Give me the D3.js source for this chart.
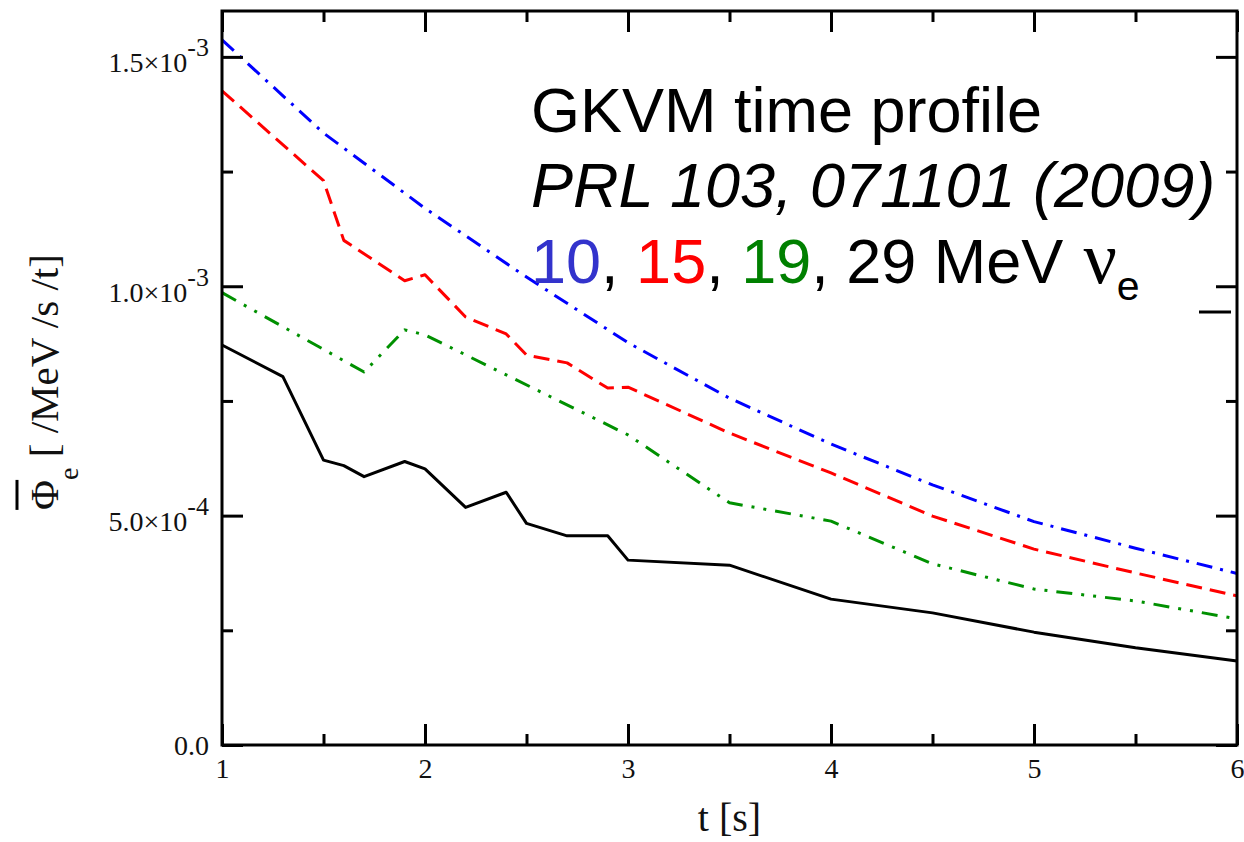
<!DOCTYPE html>
<html>
<head>
<meta charset="utf-8">
<script src="https://cdn.jsdelivr.net/npm/d3@7"></script>
<style>
  body { margin: 0; background: #fff; }
</style>
</head>
<body>
<svg id="chart" width="1244" height="842"></svg>
<script>
// time [s] and flux [/MeV /s /t] for each neutrino energy
var times10 = [1.0, 1.5, 2.0, 2.5, 3.0, 3.5, 4.0, 4.5, 5.0, 5.5, 6.0];
var flux10  = [1.537e-3, 1.334e-3, 1.170e-3, 1.020e-3, 8.77e-4, 7.56e-4, 6.56e-4, 5.67e-4, 4.87e-4, 4.29e-4, 3.74e-4];

var times15 = [1.0, 1.5, 1.6, 1.9, 2.0, 2.2, 2.4, 2.5, 2.7, 2.9, 3.0, 3.5, 4.0, 4.5, 5.0, 5.5, 6.0];
var flux15  = [1.426e-3, 1.230e-3, 1.100e-3, 1.012e-3, 1.025e-3, 9.33e-4, 8.96e-4, 8.50e-4, 8.33e-4, 7.78e-4, 7.80e-4,
               6.80e-4, 5.93e-4, 4.99e-4, 4.27e-4, 3.75e-4, 3.25e-4];

var times19 = [1.0, 1.7, 1.9, 2.0, 3.0, 3.5, 4.0, 4.5, 5.0, 5.5, 6.0];
var flux19  = [9.86e-4, 8.13e-4, 9.05e-4, 8.94e-4, 6.76e-4, 5.28e-4, 4.88e-4, 3.95e-4, 3.40e-4, 3.14e-4, 2.75e-4];

var times29 = [1.0, 1.3, 1.5, 1.6, 1.7, 1.9, 2.0, 2.2, 2.4, 2.5, 2.7, 2.9, 3.0, 3.5, 4.0, 4.5, 5.0, 5.5, 6.0];
var flux29  = [8.72e-4, 8.03e-4, 6.21e-4, 6.09e-4, 5.85e-4, 6.18e-4, 6.02e-4, 5.18e-4, 5.51e-4, 4.83e-4, 4.56e-4,
               4.56e-4, 4.03e-4, 3.92e-4, 3.18e-4, 2.88e-4, 2.46e-4, 2.12e-4, 1.83e-4];

var xMajor = [1, 2, 3, 4, 5, 6];
var xMinor = [1.5, 2.5, 3.5, 4.5, 5.5];
var yMajor = [0, 5e-4, 1e-3, 1.5e-3];
var yMinor = [2.5e-4, 7.5e-4, 1.25e-3];
var yLabelBase = ["0.0", "5.0\u00d710", "1.0\u00d710", "1.5\u00d710"];
var yLabelExp  = ["", "-4", "-3", "-3"];

var margin = {top: 11, right: 7, bottom: 97, left: 222};
var width = 1244 - margin.left - margin.right;
var height = 842 - margin.top - margin.bottom;

var x = d3.scaleLinear().domain([1, 6]).range([0, width]);
var y = d3.scaleLinear().domain([0, 1.6e-3]).range([height, 0]);

var svg = d3.select("#chart");
var chart = svg.append("g")
  .attr("transform", "translate(" + margin.left + "," + margin.top + ")");

var line = d3.line()
  .x(function(d) { return x(d[0]); })
  .y(function(d) { return y(d[1]); });

var series = [
  {t: times29, f: flux29, color: "#000000", dash: null},
  {t: times19, f: flux19, color: "#009000", dash: "16,9,3,9,3,9"},
  {t: times15, f: flux15, color: "#ff0000", dash: "16,8"},
  {t: times10, f: flux10, color: "#0000ff", dash: "16,8,3,8"}
];

chart.selectAll(".series")
  .data(series)
  .enter().append("path")
  .attr("class", "series")
  .attr("d", function(s) { return line(d3.zip(s.t, s.f)); })
  .attr("fill", "none")
  .attr("stroke", function(s) { return s.color; })
  .attr("stroke-width", 3)
  .attr("stroke-linejoin", "round")
  .attr("stroke-dasharray", function(s) { return s.dash; });

function styleAxis(g) {
  g.select(".domain").remove();
  g.selectAll(".tick line").attr("stroke", "#000").attr("stroke-width", 3);
  g.selectAll("text")
    .attr("font-family", "'Liberation Serif', 'Times New Roman', serif")
    .attr("font-size", 28)
    .attr("fill", "#111");
}

// bottom axis with labels
chart.append("g")
  .attr("transform", "translate(0," + height + ")")
  .call(d3.axisBottom(x).tickValues(xMajor).tickSize(-21).tickPadding(13).tickFormat(d3.format("d")))
  .call(styleAxis);
chart.append("g")
  .attr("transform", "translate(0," + height + ")")
  .call(d3.axisBottom(x).tickValues(xMinor).tickSize(-11).tickFormat(""))
  .call(styleAxis);

// top axis
chart.append("g")
  .call(d3.axisTop(x).tickValues(xMajor).tickSize(-21).tickFormat(""))
  .call(styleAxis);
chart.append("g")
  .call(d3.axisTop(x).tickValues(xMinor).tickSize(-11).tickFormat(""))
  .call(styleAxis);

// left axis with labels
var yAxisG = chart.append("g")
  .call(d3.axisLeft(y).tickValues(yMajor).tickSize(-21).tickPadding(13).tickFormat(""))
  .call(styleAxis);
chart.append("g")
  .call(d3.axisLeft(y).tickValues(yMinor).tickSize(-11).tickFormat(""))
  .call(styleAxis);

yAxisG.selectAll(".tick text").each(function(d, i) {
  var t = d3.select(this);
  t.attr("dy", null).attr("y", yLabelExp[i] ? 15 : 9);
  t.append("tspan").text(yLabelBase[i]);
  if (yLabelExp[i]) {
    t.append("tspan").attr("font-size", 26).attr("dy", -16).text(yLabelExp[i]);
  }
});

// right axis
chart.append("g")
  .attr("transform", "translate(" + width + ",0)")
  .call(d3.axisRight(y).tickValues(yMajor).tickSize(-21).tickFormat(""))
  .call(styleAxis);
chart.append("g")
  .attr("transform", "translate(" + width + ",0)")
  .call(d3.axisRight(y).tickValues(yMinor).tickSize(-11).tickFormat(""))
  .call(styleAxis);

// frame
chart.append("rect")
  .attr("width", width)
  .attr("height", height)
  .attr("fill", "none")
  .attr("stroke", "#000")
  .attr("stroke-width", 3);

// x label
svg.append("text")
  .attr("x", margin.left + width / 2)
  .attr("y", 831)
  .attr("text-anchor", "middle")
  .attr("font-family", "'Liberation Serif', 'Times New Roman', serif")
  .attr("font-size", 40)
  .attr("fill", "#111")
  .text("t [s]");

// y label, with bar over Phi
var yLabG = svg.append("g")
  .attr("transform", "translate(58," + (margin.top + height / 2 + 4) + ") rotate(-90)");
var yLab = yLabG.append("text")
  .attr("text-anchor", "middle")
  .attr("font-family", "'Liberation Serif', 'Times New Roman', serif")
  .attr("font-size", 41)
  .attr("fill", "#111");
yLab.append("tspan").text("\u03a6");
yLab.append("tspan").attr("font-size", 28).attr("dy", 20).text("e");
yLab.append("tspan").attr("dy", -20).text(" [ /MeV /s /t]");
var phi = yLab.node().getExtentOfChar(0);
yLabG.append("line")
  .attr("x1", phi.x)
  .attr("x2", phi.x + phi.width)
  .attr("y1", -41)
  .attr("y2", -41)
  .attr("stroke", "#000")
  .attr("stroke-width", 3);

// annotation
var note = svg.append("g")
  .attr("font-family", "'Liberation Sans', Arial, sans-serif")
  .attr("font-size", 63)
  .attr("fill", "#000");
note.append("text").attr("x", 531).attr("y", 132).text("GKVM time profile");
note.append("text").attr("x", 531).attr("y", 207).attr("font-style", "italic").text("PRL 103, 071101 (2009)");
var l3 = note.append("text").attr("x", 531).attr("y", 283);
l3.append("tspan").attr("fill", "#3333cc").text("10");
l3.append("tspan").text(", ");
l3.append("tspan").attr("fill", "#ff0000").text("15");
l3.append("tspan").text(", ");
l3.append("tspan").attr("fill", "#008000").text("19");
l3.append("tspan").text(", 29 MeV");
l3.append("tspan").attr("dx", 20).attr("font-size", 74)
  .attr("font-family", "'Liberation Serif', 'Times New Roman', serif").text("\u03bd");
l3.append("tspan").attr("font-size", 41).attr("dy", 17).text("e");

note.append("line")
  .attr("x1", 1199).attr("x2", 1231)
  .attr("y1", 312).attr("y2", 312)
  .attr("stroke", "#000")
  .attr("stroke-width", 3);
</script>
</body>
</html>
